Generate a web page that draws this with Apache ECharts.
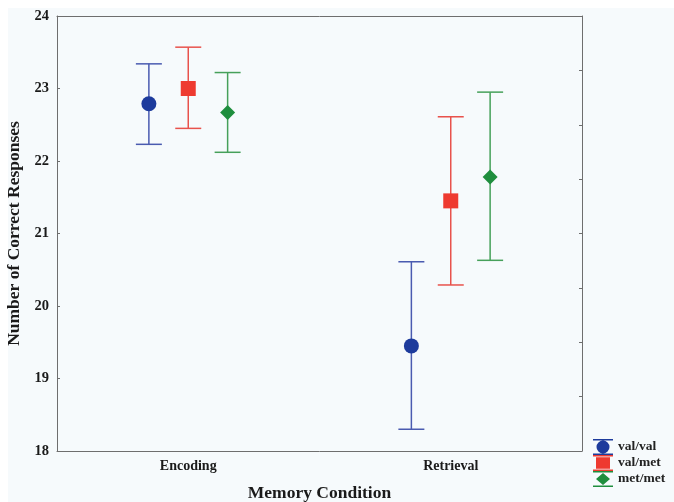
<!DOCTYPE html>
<html>
<head>
<meta charset="utf-8">
<script src="https://cdn.jsdelivr.net/npm/echarts@6/dist/echarts.min.js"></script>
<style>
  html, body { margin: 0; padding: 0; background: #ffffff; }
  #chart { width: 674px; height: 502px; }
</style>
</head>
<body>
<div id="chart"></div>
<script>
// Memory condition categories
const categories = ['Encoding', 'Retrieval'];

// Group means with lower / upper error-bar limits, one entry per category
const valValMean  = [22.79, 19.45];
const valValLower = [22.23, 18.30];
const valValUpper = [23.34, 20.61];

const valMetMean  = [23.00, 21.45];
const valMetLower = [22.45, 20.29];
const valMetUpper = [23.57, 22.61];

const metMetMean  = [22.67, 21.78];
const metMetLower = [22.12, 20.63];
const metMetUpper = [23.22, 22.95];

const groupNames = ['val/val', 'val/met', 'met/met'];

// y axis range and tick step
const yMin = 18, yMax = 24, yStep = 1;

const groups = [
  { name: groupNames[0], mean: valValMean, lower: valValLower, upper: valValUpper,
    marker: '#1d3b9c', line: '#4a5bb0', shape: 'circle', offset: -0.15 },
  { name: groupNames[1], mean: valMetMean, lower: valMetLower, upper: valMetUpper,
    marker: '#ee3a30', line: '#e8524c', shape: 'square', offset: 0 },
  { name: groupNames[2], mean: metMetMean, lower: metMetLower, upper: metMetUpper,
    marker: '#1f8e3e', line: '#46a05a', shape: 'diamond', offset: 0.15 }
];

// Legend icons: a small error bar (top cap, marker, bottom cap) in a 20x16 box
const legendIcons = {
  circle:  'path://M0,0H20V1.6H0Z M3.5,8A6.5,6.5 0 1,0 16.5,8A6.5,6.5 0 1,0 3.5,8Z M0,14.4H20V16H0Z',
  square:  'path://M0,0H20V1.6H0Z M3,2.2H17V13.8H3Z M0,14.4H20V16H0Z',
  diamond: 'path://M0,0H20V1.6H0Z M10,2L17,8L10,14L3,8Z M0,14.4H20V16H0Z'
};

const serif = '"Liberation Serif", "DejaVu Serif", serif';
const axisGray = '#6e6e6e';

function makeRenderItem(g) {
  return function (params, api) {
    const ci = api.value(0);
    const band = api.size([1, 0])[0];
    const dx = band * g.offset;
    const pMean = api.coord([ci, api.value(1)]);
    const cx = pMean[0] + dx;
    const cy = pMean[1];
    const yLo = api.coord([ci, api.value(2)])[1];
    const yHi = api.coord([ci, api.value(3)])[1];
    const cap = 13;
    const lineStyle = { stroke: g.line, lineWidth: 1.5, fill: null };
    const children = [
      { type: 'line', shape: { x1: cx, y1: yHi, x2: cx, y2: yLo }, style: lineStyle },
      { type: 'line', shape: { x1: cx - cap, y1: yHi, x2: cx + cap, y2: yHi }, style: lineStyle },
      { type: 'line', shape: { x1: cx - cap, y1: yLo, x2: cx + cap, y2: yLo }, style: lineStyle }
    ];
    const s = 7.5;
    if (g.shape === 'circle') {
      children.push({ type: 'circle', shape: { cx: cx, cy: cy, r: s }, style: { fill: g.marker } });
    } else if (g.shape === 'square') {
      children.push({ type: 'rect', shape: { x: cx - s, y: cy - s, width: 2 * s, height: 2 * s }, style: { fill: g.marker } });
    } else {
      children.push({ type: 'polygon', shape: { points: [[cx, cy - s], [cx + s, cy], [cx, cy + s], [cx - s, cy]] }, style: { fill: g.marker } });
    }
    return { type: 'group', children: children };
  };
}

const series = groups.map(function (g) {
  return {
    name: g.name,
    type: 'custom',
    xAxisIndex: 0,
    yAxisIndex: 0,
    itemStyle: { color: g.marker },
    renderItem: makeRenderItem(g),
    encode: { x: 0, y: [1, 2, 3] },
    data: categories.map(function (c, i) {
      return [i, g.mean[i], g.lower[i], g.upper[i]];
    })
  };
});

const chart = echarts.init(document.getElementById('chart'), null, { renderer: 'canvas' });

chart.setOption({
  backgroundColor: '#ffffff',
  animation: false,
  // pale panel behind the whole figure, inset from the top-left corner
  graphic: [{
    type: 'rect',
    z: -10,
    silent: true,
    shape: { x: 8, y: 8, width: 674, height: 502 },
    style: { fill: '#f6fafc' }
  }],
  grid: { left: 57, top: 16, right: 92, bottom: 51, containLabel: false, outerBoundsMode: 'none' },
  legend: {
    orient: 'vertical',
    left: 593,
    top: 439,
    itemWidth: 20,
    itemHeight: 16,
    itemGap: 0,
    padding: 0,
    textStyle: { fontFamily: serif, fontWeight: 'bold', fontSize: 13.5, color: '#222' },
    data: groups.map(function (g) { return { name: g.name, icon: legendIcons[g.shape] }; })
  },
  xAxis: [
    {
      type: 'category',
      data: categories,
      position: 'bottom',
      boundaryGap: true,
      name: 'Memory Condition',
      nameLocation: 'middle',
      nameGap: 33,
      nameTextStyle: { fontFamily: serif, fontWeight: 'bold', fontSize: 17.5, color: '#1a1a1a' },
      axisLine: { lineStyle: { color: axisGray, width: 1 } },
      axisTick: { inside: true, length: 3, alignWithLabel: true, lineStyle: { color: axisGray } },
      axisLabel: { fontFamily: serif, fontWeight: 'bold', fontSize: 14, color: '#1a1a1a', margin: 8 },
      splitLine: { show: false }
    },
    {
      type: 'category',
      data: categories,
      position: 'top',
      boundaryGap: true,
      axisLine: { lineStyle: { color: axisGray, width: 1 } },
      axisTick: { inside: true, length: 3, alignWithLabel: true, lineStyle: { color: axisGray } },
      axisLabel: { show: false },
      splitLine: { show: false }
    }
  ],
  yAxis: [
    {
      type: 'value',
      min: yMin,
      max: yMax,
      interval: yStep,
      position: 'left',
      name: 'Number of Correct Responses',
      nameLocation: 'middle',
      nameGap: 31,
      nameTextStyle: { fontFamily: serif, fontWeight: 'bold', fontSize: 17.5, color: '#1a1a1a' },
      axisLine: { show: true, lineStyle: { color: axisGray, width: 1 } },
      axisTick: { show: true, inside: true, length: 3, lineStyle: { color: axisGray } },
      axisLabel: { fontFamily: serif, fontWeight: 'bold', fontSize: 14.5, color: '#1a1a1a', margin: 8 },
      splitLine: { show: false }
    },
    {
      type: 'value',
      min: yMin,
      max: yMax,
      interval: (yMax - yMin) / 8,
      position: 'right',
      axisLine: { show: true, lineStyle: { color: axisGray, width: 1 } },
      axisTick: { show: true, inside: true, length: 3, lineStyle: { color: axisGray } },
      axisLabel: { show: false },
      splitLine: { show: false }
    }
  ],
  series: series
});
</script>
</body>
</html>
